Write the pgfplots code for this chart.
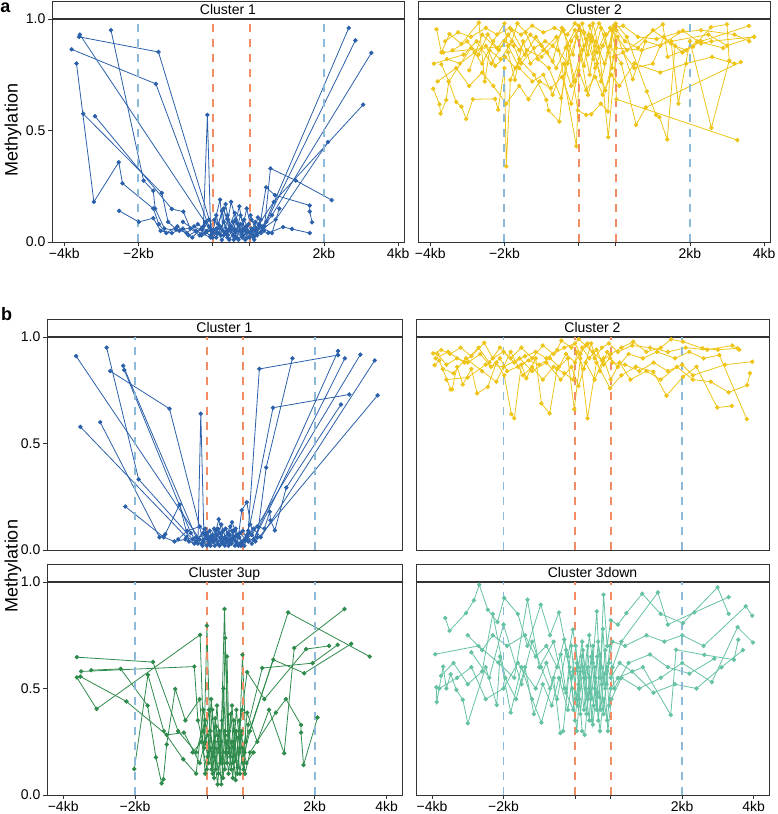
\documentclass[border=0pt]{standalone}
\usepackage{fontspec}
\setmainfont{Liberation Sans}
\usepackage{pgfplots}
\pgfplotsset{compat=1.18}
\definecolor{cA}{RGB}{43,96,170}
\definecolor{cB}{RGB}{238,196,24}
\definecolor{cC}{RGB}{46,139,76}
\definecolor{cD}{RGB}{102,194,165}
\definecolor{vO}{RGB}{242,140,100}
\definecolor{vB}{RGB}{140,185,215}
\pgfplotsset{
  every axis title shift=0pt,
  facet/.style={scale only axis, ymin=0, ymax=1,
    axis line style={black!80, line width=0.6pt},
    every tick/.style={black!80, line width=0.6pt},
    tick align=outside, major tick length=4pt,
    xtick pos=bottom, ytick pos=left,
    ytick={0,0.5,1}, yticklabels={0.0,0.5,1.0},
    xtick={-4,-2,0,1,3,5}, xticklabels={−4kb,−2kb,,,2kb,4kb},
    tick label style={font=\fontsize{14}{16}\selectfont},
    xticklabel style={inner sep=2pt},
    yticklabel style={inner sep=2.5pt},
    title style={at={(0.5,1)}, anchor=south, yshift=0pt, draw=black!80, line width=0.6pt, fill=white,
      inner sep=0pt, minimum height=17.5pt, text height=10pt, text depth=0pt,
      font=\fontsize{14}{16}\selectfont},
  },
  gA/.style={color=cA, line width=0.8pt, mark=*, mark size=1.8pt, mark options={solid}},
  gB/.style={color=cB, line width=0.8pt, mark=*, mark size=1.8pt, mark options={solid}},
  gC/.style={color=cC, line width=0.8pt, mark=*, mark size=1.8pt, mark options={solid}},
  gD/.style={color=cD, line width=0.8pt, mark=*, mark size=1.8pt, mark options={solid}},
  vlO/.style={vO, line width=1.9pt, dash pattern=on 8pt off 7pt},
  vlB/.style={vB, line width=1.9pt, dash pattern=on 8pt off 7pt},
}
\newcommand{\vlines}{%
  \addplot[vlB] coordinates {(-2,0) (-2,1)};
  \addplot[vlB] coordinates {(3,0) (3,1)};
  \addplot[vlO] coordinates {(0,0) (0,1)};
  \addplot[vlO] coordinates {(1,0) (1,1)};
}
\begin{document}
\begin{tikzpicture}
\useasboundingbox (0,0) rectangle (777pt,814pt);
% ---------------- panel a, Cluster 1
\begin{axis}[facet, at={(52pt,572pt)}, anchor=south west, width=352pt, height=223pt,
  xmin=-4.33, xmax=5.16, title={Cluster 1}, title style={minimum width=352pt}]
\addplot[gA] coordinates {(-3.58,0.93) (-0.05,0.05) (0.1,0.02) (0.3,0.09) (0.45,0.01) (0.6,0.05) (0.8,0.02) (1.05,0.06) (1.3,0.04) (3.67,0.96)};
\addplot[gA] coordinates {(-3.80,0.864) (-1.53,0.709) (-0.1,0.07) (0.15,0.04) (0.4,0.12) (0.55,0.03) (0.75,0.08) (0.95,0.02) (1.15,0.05) (1.45,0.09) (3.85,0.904)};
\addplot[gA] coordinates {(-3.60,0.92) (-1.46,0.852) (0.0,0.05) (0.2,0.19) (0.3,0.03) (0.5,0.07) (0.65,0.02) (0.85,0.1) (1.0,0.04) (1.2,0.03) (1.6,0.12) (4.28,0.848)};
\addplot[gA] coordinates {(-2.74,0.95) (-1.86,0.275) (-1.6,0.23) (-1.55,0.15) (-1.3,0.06) (-0.9,0.05) (-0.5,0.07) (-0.2,0.04) (0.1,0.06) (0.25,0.01) (0.4,0.05) (0.6,0.13) (0.8,0.03) (1.05,0.05) (1.25,0.08) (1.65,0.18) (4.06,0.616)};
\addplot[gA] coordinates {(-3.49,0.575) (-1.37,0.22) (-1.2,0.09) (-1.0,0.06) (-0.7,0.04) (-0.4,0.08) (-0.15,0.05) (0.05,0.1) (0.35,0.04) (0.5,0.18) (0.7,0.05) (0.9,0.07) (1.1,0.02) (1.35,0.06) (1.7,0.1) (3.11,0.448)};
\addplot[gA] coordinates {(-3.17,0.564) (-1.1,0.148) (-0.79,0.136) (-0.6,0.06) (-0.35,0.03) (-0.1,0.1) (0.15,0.08) (0.3,0.15) (0.45,0.06) (0.6,0.02) (0.75,0.12) (0.9,0.05) (1.05,0.1) (1.2,0.06) (1.5,0.04) (1.9,0.067) (2.14,0.058) (2.62,0.04)};
\addplot[gA] coordinates {(-3.67,0.80) (-3.20,0.18) (-2.53,0.358) (-2.43,0.263) (-1.6,0.15) (-1.45,0.08) (-1.25,0.04) (-0.95,0.07) (-0.65,0.03) (-0.3,0.06) (0.0,0.02) (0.2,0.07) (0.4,0.03) (0.55,0.09) (0.7,0.01) (0.85,0.06) (1.0,0.02) (1.15,0.09) (1.4,0.07) (1.56,0.33) (2.24,0.276) (3.21,0.188)};
\addplot[gA] coordinates {(-2.52,0.14) (-1.99,0.09) (-1.6,0.107) (-1.4,0.05) (-1.1,0.04) (-0.8,0.06) (-0.55,0.02) (-0.25,0.07) (-0.14,0.57) (-0.05,0.03) (0.1,0.04) (0.25,0.14) (0.4,0.02) (0.58,0.06) (0.72,0.16) (0.88,0.01) (1.02,0.12) (1.18,0.04) (1.3,0.1) (1.44,0.245) (1.68,0.21) (2.62,0.164) (2.62,0.137) (2.68,0.088)};
\addplot[gA] coordinates {(-0.3,0.03) (-0.2,0.09) (0.0,0.04) (0.1,0.12) (0.22,0.03) (0.35,0.17) (0.48,0.05) (0.62,0.1) (0.78,0.04) (0.92,0.15) (1.08,0.03) (1.22,0.11) (1.38,0.05)};
\addplot[gA] coordinates {(-0.8,0.09) (-0.45,0.05) (-0.05,0.02) (0.12,0.06) (0.28,0.05) (0.42,0.1) (0.57,0.01) (0.68,0.08) (0.82,0.05) (0.97,0.08) (1.12,0.01) (1.28,0.07) (1.6,0.04) (1.8,0.15)};
\vlines
\end{axis}
% ---------------- panel a, Cluster 2
\begin{axis}[facet, at={(418pt,572pt)}, anchor=south west, width=352pt, height=223pt,
  xmin=-4.33, xmax=5.16, ytick=\empty, title={Cluster 2}, title style={minimum width=352pt}]
\addplot[gB] coordinates {(-3.92,0.687) (-3.75,0.618) (-3.72,0.576) (-3.57,0.637) (-3.5,0.72) (-3.3,0.628) (-3.16,0.607) (-3.03,0.552) (-2.85,0.64) (-2.25,0.642) (-2.17,0.593) (-2.0,0.78) (-1.95,0.339) (-1.84,0.727) (-1.6,0.82) (-1.2,0.75) (-0.87,0.637) (-0.81,0.59) (-0.52,0.54) (-0.3,0.88) (-0.02,0.59) (0.2,0.57) (0.34,0.573) (0.6,0.62) (0.79,0.585) (0.9,0.95) (1.3,0.86) (2.27,0.976) (2.4,0.83) (3.09,0.876) (3.57,0.963) (4.0,0.976) (4.06,0.813)};
\addplot[gB] coordinates {(-3.83,0.954) (-3.7,0.85) (-3.48,0.933) (-3.16,0.888) (-2.69,0.984) (-2.53,0.72) (-2.4,0.86) (-2.1,0.82) (-1.8,0.9) (-1.65,0.98) (-1.43,0.94) (-1.1,0.82) (-0.8,0.78) (-0.47,0.645) (-0.2,0.9) (0.1,0.98) (0.25,0.84) (0.39,0.98) (0.55,0.87) (0.8,0.47) (1.05,0.92) (1.46,0.73) (1.8,0.9) (2.2,0.88) (2.81,0.948) (3.3,0.89) (3.58,0.9) (4.73,0.92)};
\addplot[gB] coordinates {(-3.7,0.797) (-3.5,0.72) (-2.9,0.87) (-2.6,0.8) (-2.3,0.9) (-2.0,0.98) (-1.9,0.85) (-1.72,0.727) (-1.5,0.9) (-1.3,0.8) (-0.95,0.86) (-0.6,0.92) (-0.06,0.43) (0.05,0.95) (0.3,0.75) (0.45,0.9) (0.7,0.8) (0.95,0.97) (1.02,0.64) (4.28,0.457)};
\addplot[gB] coordinates {(-3.55,0.82) (-3.2,0.8) (-2.8,0.85) (-2.5,0.88) (-2.25,0.79) (-1.98,0.83) (-1.7,0.78) (-1.4,0.86) (-1.0,0.83) (-0.7,0.88) (-0.4,0.95) (-0.1,0.72) (0.15,0.88) (0.35,0.92) (0.6,0.72) (0.85,0.88) (1.15,0.8) (1.55,0.525) (1.81,0.603) (4.37,0.807)};
\addplot[gB] coordinates {(-3.4,0.86) (-3.0,0.9) (-2.7,0.84) (-2.45,0.93) (-2.2,0.87) (-1.9,0.93) (-1.6,0.86) (-1.3,0.93) (-1.0,0.88) (-0.7,0.81) (-0.45,0.96) (-0.15,0.84) (0.0,0.97) (0.2,0.91) (0.4,0.82) (0.6,0.96) (0.8,0.85) (1.0,0.98) (1.3,0.92) (1.84,0.675) (2.09,0.57) (2.18,0.56) (2.39,0.46) (2.6,0.88) (2.9,0.86) (3.3,0.9) (4.59,0.969)};
\addplot[gB] coordinates {(-3.9,0.8) (-3.1,0.84) (-2.75,0.9) (-2.35,0.8) (-2.0,0.9) (-1.75,0.88) (-1.55,0.8) (-1.2,0.87) (-0.9,0.9) (-0.55,0.86) (-0.3,0.8) (-0.05,0.92) (0.15,0.79) (0.3,0.97) (0.5,0.85) (0.7,0.93) (0.9,0.78) (1.02,0.95) (1.25,0.9) (1.6,0.87) (2.0,0.95) (2.5,0.89) (2.69,0.62) (3.0,0.9) (3.58,0.512) (4.06,0.813)};
\addplot[gB] coordinates {(-2.95,0.77) (-2.6,0.93) (-2.15,0.86) (-1.8,0.95) (-1.45,0.84) (-1.15,0.92) (-0.85,0.85) (-0.6,0.78) (-0.35,0.87) (-0.1,0.95) (0.1,0.86) (0.28,0.93) (0.45,0.78) (0.65,0.88) (0.85,0.96) (1.0,0.87) (1.7,0.86) (2.5,0.9) (3.5,0.93) (4.0,0.88) (4.73,0.92)};
\addplot[gB] coordinates {(-3.65,0.85) (-1.9,0.88) (-1.6,0.78) (-1.25,0.72) (-0.95,0.75) (-0.7,0.66) (-0.4,0.8) (-0.2,0.7) (0.05,0.84) (0.25,0.66) (0.5,0.8) (0.72,0.68) (0.95,0.83) (1.2,0.85) (1.5,0.78) (2.0,0.8) (2.3,0.92) (2.8,0.85) (3.2,0.9) (3.9,0.87)};
\addplot[gB] coordinates {(-3.8,0.72) (-3.3,0.78) (-2.95,0.7) (-2.6,0.76) (-2.3,0.7) (-1.95,0.62) (-1.6,0.7) (-1.35,0.64) (-1.05,0.72) (-0.75,0.69) (-0.45,0.74) (-0.2,0.62) (0.0,0.77) (0.2,0.68) (0.45,0.74) (0.65,0.66) (0.88,0.75) (1.1,0.7) (1.5,0.8) (2.2,0.76) (2.9,0.8) (3.6,0.83) (4.2,0.8)};
\addplot[gB] coordinates {(-3.6,0.9) (-3.25,0.94) (-2.9,0.92) (-2.5,0.96) (-2.2,0.93) (-1.85,0.96) (-1.55,0.93) (-1.25,0.97) (-0.95,0.94) (-0.65,0.96) (-0.3,0.93) (-0.1,0.98) (0.15,0.94) (0.35,0.9) (0.55,0.98) (0.75,0.93) (0.95,0.96) (1.2,0.97) (1.6,0.92) (2.1,0.91) (2.7,0.94) (3.3,0.95) (4.2,0.93) (4.6,0.9)};
\vlines
\end{axis}
% ---------------- panel b, Cluster 1
\begin{axis}[facet, at={(47pt,264pt)}, anchor=south west, width=355pt, height=213pt,
  xmin=-4.45, xmax=5.43, xtick=\empty, title={Cluster 1}, title style={minimum width=355pt}]
\addplot[gA] coordinates {(-3.64,0.91) (-0.2,0.05) (0.0,0.02) (0.15,0.07) (0.3,0.03) (0.45,0.09) (0.6,0.02) (0.75,0.06) (0.9,0.03) (1.05,0.05) (1.25,0.07) (4.27,0.917)};
\addplot[gA] coordinates {(-3.52,0.578) (-0.57,0.06) (-0.3,0.04) (-0.1,0.08) (0.05,0.03) (0.2,0.1) (0.35,0.02) (0.5,0.06) (0.65,0.11) (0.8,0.04) (0.95,0.02) (1.1,0.06) (1.35,0.04) (4.75,0.726)};
\addplot[gA] coordinates {(-2.97,0.60) (-1.32,0.06) (-1.16,0.074) (-0.76,0.213) (-0.5,0.04) (-0.15,0.03) (0.02,0.06) (0.18,0.04) (0.33,0.144) (0.48,0.03) (0.62,0.07) (0.78,0.02) (0.92,0.08) (1.08,0.05) (1.3,0.1) (1.5,0.06) (4.67,0.89)};
\addplot[gA] coordinates {(-2.79,0.95) (-1.9,0.332) (-0.4,0.05) (-0.05,0.07) (0.1,0.02) (0.25,0.05) (0.4,0.12) (0.55,0.04) (0.7,0.09) (0.85,0.03) (0.97,0.187) (1.11,0.224) (1.3,0.05) (3.65,0.934)};
\addplot[gA] coordinates {(-2.69,0.84) (-1.04,0.663) (-0.1,0.04) (0.08,0.09) (0.22,0.02) (0.38,0.06) (0.52,0.1) (0.68,0.03) (0.82,0.07) (1.0,0.04) (1.15,0.09) (1.46,0.85) (3.65,0.915)};
\addplot[gA] coordinates {(-2.33,0.865) (-0.3,0.06) (-0.12,0.02) (0.05,0.05) (0.2,0.04) (0.36,0.08) (0.5,0.02) (0.66,0.05) (0.8,0.1) (0.96,0.03) (1.12,0.07) (1.25,0.03) (3.84,0.90)};
\addplot[gA] coordinates {(-2.3,0.845) (-0.45,0.08) (-0.25,0.03) (-0.17,0.64) (-0.08,0.05) (0.12,0.04) (0.28,0.07) (0.42,0.03) (0.58,0.08) (0.72,0.05) (0.88,0.02) (1.02,0.04) (1.2,0.12) (1.84,0.668) (3.96,0.73)};
\addplot[gA] coordinates {(-2.27,0.204) (-1.2,0.06) (-0.9,0.04) (-0.6,0.05) (-0.35,0.03) (-0.05,0.1) (0.1,0.06) (0.26,0.09) (0.4,0.04) (0.56,0.05) (0.7,0.13) (0.86,0.06) (1.0,0.09) (1.15,0.04) (1.4,0.06) (1.65,0.387) (2.38,0.90)};
\addplot[gA] coordinates {(-0.8,0.05) (-0.55,0.09) (-0.2,0.11) (0.0,0.08) (0.14,0.05) (0.3,0.1) (0.46,0.05) (0.6,0.04) (0.74,0.09) (0.9,0.06) (1.04,0.02) (1.18,0.08) (1.4,0.11) (1.6,0.1) (1.75,0.18) (1.77,0.14) (1.89,0.092) (2.21,0.293) (3.73,0.683)};
\vlines
\end{axis}
% ---------------- panel b, Cluster 2
\begin{axis}[facet, at={(416pt,264pt)}, anchor=south west, width=353pt, height=213pt,
  xmin=-4.45, xmax=5.43, xtick=\empty, ytick=\empty, title={Cluster 2}, title style={minimum width=353pt}]
\addplot[gB] coordinates {(-3.97,0.923) (-3.74,0.939) (-3.5,0.92) (-3.2,0.95) (-2.9,0.91) (-2.54,0.973) (-2.3,0.9) (-2.0,0.93) (-1.7,0.88) (-1.4,0.91) (-1.1,0.93) (-0.8,0.9) (-0.5,0.94) (-0.38,0.983) (-0.1,0.95) (0.1,0.99) (0.3,0.96) (0.5,0.93) (0.75,0.89) (1.0,0.92) (1.3,0.95) (1.63,0.978) (2.0,0.93) (2.4,0.95) (2.69,0.989) (3.02,0.978) (3.57,0.947) (4.0,0.94) (4.55,0.947)};
\addplot[gB] coordinates {(-3.93,0.868) (-3.8,0.89) (-3.48,0.754) (-3.44,0.754) (-3.3,0.86) (-3.14,0.777) (-2.9,0.85) (-2.74,0.735) (-2.44,0.766) (-2.2,0.88) (-1.98,0.82) (-1.78,0.638) (-1.7,0.618) (-1.5,0.87) (-1.36,0.806) (-1.1,0.9) (-0.94,0.688) (-0.71,0.641) (-0.5,0.85) (-0.2,0.9) (-0.02,0.661) (0.15,0.9) (0.35,0.618) (0.6,0.88) (0.98,0.759) (1.3,0.82) (1.7,0.86) (2.19,0.837) (2.56,0.724) (3.02,0.813) (3.4,0.86) (3.98,0.669) (4.39,0.676)};
\addplot[gB] coordinates {(-3.85,0.92) (-3.6,0.87) (-3.3,0.9) (-3.0,0.88) (-2.65,0.92) (-2.35,0.86) (-2.1,0.9) (-1.9,0.84) (-1.6,0.86) (-1.3,0.89) (-1.0,0.87) (-0.7,0.9) (-0.45,0.86) (-0.25,0.92) (0.0,0.88) (0.2,0.95) (0.4,0.9) (0.6,0.94) (0.8,0.87) (0.98,0.9) (1.2,0.86) (1.5,0.92) (1.9,0.9) (2.3,0.93) (2.8,0.9) (3.2,0.93) (3.6,0.9) (4.04,0.915) (4.81,0.614)};
\addplot[gB] coordinates {(-3.7,0.85) (-3.4,0.83) (-3.05,0.9) (-2.6,0.84) (-2.2,0.79) (-1.8,0.93) (-1.45,0.82) (-1.2,0.86) (-0.9,0.8) (-0.6,0.86) (-0.3,0.83) (-0.05,0.8) (0.05,0.93) (0.25,0.85) (0.45,0.97) (0.7,0.84) (0.9,0.93) (1.05,0.88) (1.4,0.87) (1.8,0.84) (2.2,0.88) (2.6,0.84) (3.0,0.87) (3.3,0.82) (4.2,0.87) (4.96,0.884)};
\addplot[gB] coordinates {(-3.6,0.8) (-3.0,0.81) (-2.5,0.87) (-2.0,0.86) (-1.55,0.9) (-1.2,0.84) (-0.8,0.88) (-0.4,0.8) (-0.1,0.86) (0.1,0.77) (0.3,0.88) (0.55,0.8) (0.8,0.9) (1.0,0.8) (1.25,0.88) (1.55,0.8) (2.0,0.84) (2.4,0.8) (2.85,0.86) (3.3,0.8) (3.8,0.79) (4.3,0.74) (4.82,0.774) (4.9,0.83)};
\addplot[gB] coordinates {(-3.9,0.9) (-3.55,0.93) (-3.1,0.88) (-2.7,0.95) (-2.4,0.88) (-2.1,0.95) (-1.8,0.9) (-1.5,0.95) (-1.2,0.9) (-0.9,0.96) (-0.6,0.92) (-0.3,0.95) (0.0,0.97) (0.15,0.92) (0.35,0.97) (0.55,0.9) (0.75,0.95) (0.95,0.97) (1.2,0.93) (1.6,0.96) (2.1,0.95) (2.6,0.93) (3.1,0.95) (3.7,0.94) (4.4,0.96) (4.6,0.94)};
\vlines
\end{axis}
% ---------------- panel b, Cluster 3up
\begin{axis}[facet, at={(47pt,19pt)}, anchor=south west, width=355pt, height=213pt,
  xmin=-4.45, xmax=5.43, title={Cluster 3up}, title style={minimum width=355pt}]
\addplot[gC] coordinates {(-3.62,0.647) (-1.5,0.624) (-0.8,0.3) (-0.3,0.2) (-0.05,0.35) (0.05,0.15) (0.15,0.4) (0.25,0.12) (0.35,0.3) (0.45,0.08) (0.55,0.25) (0.65,0.18) (0.75,0.35) (0.85,0.1) (0.95,0.28) (1.05,0.2) (1.2,0.3) (2.26,0.857) (4.53,0.65)};
\addplot[gC] coordinates {(-3.62,0.552) (-3.07,0.404) (-0.19,0.752) (-0.1,0.3) (0.02,0.18) (0.12,0.45) (0.22,0.25) (0.32,0.1) (0.42,0.35) (0.52,0.2) (0.62,0.3) (0.72,0.15) (0.82,0.4) (0.92,0.22) (1.02,0.12) (1.15,0.33) (1.54,0.596) (2.94,0.619) (3.64,0.705)};
\addplot[gC] coordinates {(-3.5,0.58) (-0.35,0.603) (-0.25,0.35) (-0.08,0.22) (0.0,0.795) (0.08,0.3) (0.18,0.2) (0.28,0.42) (0.38,0.15) (0.49,0.873) (0.58,0.28) (0.68,0.12) (0.78,0.3) (0.9,0.2) (0.99,0.658) (1.08,0.25) (1.85,0.635) (2.71,0.572) (4.02,0.71)};
\addplot[gC] coordinates {(-3.52,0.556) (-2.24,0.439) (-1.12,0.282) (-0.64,0.293) (-0.2,0.15) (-0.05,0.25) (0.06,0.4) (0.16,0.1) (0.26,0.32) (0.36,0.2) (0.46,0.5) (0.56,0.15) (0.66,0.38) (0.76,0.22) (0.86,0.13) (0.96,0.3) (1.06,0.1) (1.2,0.2) (1.92,0.387) (2.2,0.45) (2.62,0.329) (2.62,0.293) (2.69,0.141) (3.08,0.364)};
\addplot[gC] coordinates {(-3.22,0.586) (-2.4,0.592) (-1.65,0.42) (-1.42,0.177) (-1.26,0.055) (-1.21,0.074) (-1.12,0.237) (-0.88,0.498) (-0.6,0.35) (-0.2,0.45) (-0.05,0.1) (0.1,0.22) (0.2,0.08) (0.3,0.28) (0.4,0.05) (0.5,0.3) (0.6,0.1) (0.7,0.25) (0.8,0.07) (0.9,0.35) (1.0,0.15) (1.12,0.387) (1.4,0.25) (1.73,0.4) (2.15,0.196) (2.43,0.69) (3.83,0.873)};
\addplot[gC] coordinates {(-2.02,0.122) (-1.64,0.564) (-1.2,0.3) (-0.66,0.168) (-0.3,0.1) (-0.1,0.4) (0.03,0.28) (0.13,0.12) (0.23,0.36) (0.33,0.22) (0.43,0.15) (0.51,0.737) (0.6,0.2) (0.7,0.42) (0.8,0.16) (0.88,0.27) (0.98,0.4) (1.12,0.577) (1.6,0.45) (2.76,0.685) (3.4,0.7)};
\addplot[gC] coordinates {(-0.4,0.2) (-0.15,0.25) (0.0,0.12) (0.1,0.3) (0.2,0.18) (0.3,0.05) (0.4,0.25) (0.5,0.12) (0.56,0.65) (0.62,0.22) (0.72,0.08) (0.82,0.3) (0.92,0.1) (1.0,0.22) (1.1,0.15) (1.3,0.2)};
\vlines
\end{axis}
% ---------------- panel b, Cluster 3down
\begin{axis}[facet, at={(416pt,19pt)}, anchor=south west, width=353pt, height=213pt,
  xmin=-4.45, xmax=5.43, ytick=\empty, title={Cluster 3down}, title style={minimum width=353pt}]
\addplot[gD] coordinates {(-3.91,0.661) (-2.7,0.7) (-2.15,0.622) (-1.7,0.55) (-1.33,0.917) (-1.0,0.6) (-0.6,0.72) (-0.3,0.5) (-0.05,0.4) (0.05,0.62) (0.15,0.38) (0.25,0.55) (0.35,0.7) (0.45,0.45) (0.55,0.6) (0.65,0.35) (0.75,0.52) (0.85,0.68) (0.95,0.42) (1.05,0.6) (1.3,0.72) (2.32,0.951) (2.6,0.8) (3.34,0.857) (4.3,0.929)};
\addplot[gD] coordinates {(-3.88,0.506) (-3.87,0.437) (-3.69,0.603) (-3.6,0.5) (-3.48,0.567) (-3.32,0.494) (-3.14,0.447) (-3.0,0.337) (-2.5,0.6) (-2.19,0.423) (-2.1,0.65) (-1.8,0.387) (-1.5,0.6) (-1.2,0.45) (-0.94,0.34) (-0.6,0.55) (-0.41,0.29) (-0.33,0.3) (-0.15,0.6) (0.0,0.35) (0.1,0.52) (0.2,0.3) (0.27,0.282) (0.4,0.5) (0.5,0.33) (0.6,0.48) (0.7,0.3) (0.8,0.45) (0.9,0.35) (1.0,0.5) (1.2,0.55) (1.9,0.6) (2.68,0.376) (2.83,0.682) (3.62,0.658) (4.45,0.635) (4.57,0.729)};
\addplot[gD] coordinates {(-3.63,0.831) (-3.51,0.771) (-3.05,0.854) (-2.83,0.914) (-2.68,0.987) (-2.44,0.87) (-2.17,0.812) (-1.98,0.925) (-1.6,0.85) (-1.33,0.7) (-0.96,0.893) (-0.7,0.75) (-0.45,0.857) (-0.2,0.65) (-0.06,0.776) (0.1,0.6) (0.2,0.72) (0.3,0.55) (0.4,0.75) (0.5,0.62) (0.61,0.862) (0.7,0.55) (0.8,0.94) (0.9,0.7) (1.0,0.82) (1.2,0.8) (1.44,0.854) (1.88,0.945) (2.4,0.85) (3.02,0.807) (3.99,0.975) (4.3,0.85)};
\addplot[gD] coordinates {(-3.8,0.5) (-3.3,0.55) (-2.9,0.6) (-2.5,0.45) (-2.0,0.5) (-1.6,0.62) (-1.1,0.5) (-0.8,0.62) (-0.5,0.45) (-0.25,0.68) (-0.08,0.5) (0.05,0.3) (0.12,0.45) (0.22,0.6) (0.32,0.38) (0.42,0.55) (0.52,0.42) (0.62,0.65) (0.72,0.4) (0.82,0.57) (0.92,0.3) (1.02,0.45) (1.3,0.55) (1.8,0.5) (2.4,0.55) (3.0,0.62) (3.83,0.53) (4.55,0.788) (4.98,0.716)};
\addplot[gD] coordinates {(-3.0,0.75) (-2.6,0.68) (-2.3,0.75) (-1.9,0.7) (-1.4,0.75) (-1.1,0.65) (-0.8,0.7) (-0.5,0.6) (-0.3,0.73) (-0.1,0.55) (0.02,0.7) (0.12,0.5) (0.22,0.68) (0.35,0.45) (0.45,0.65) (0.55,0.5) (0.65,0.72) (0.75,0.6) (0.85,0.5) (0.95,0.62) (1.05,0.72) (1.4,0.7) (2.0,0.75) (2.5,0.72) (3.0,0.75) (3.6,0.7) (4.78,0.886) (4.96,0.842)};
\addplot[gD] coordinates {(-3.75,0.56) (-3.4,0.62) (-3.0,0.52) (-2.6,0.58) (-2.3,0.85) (-1.95,0.55) (-1.65,0.45) (-1.4,0.6) (-1.15,0.38) (-0.9,0.52) (-0.65,0.42) (-0.45,0.55) (-0.2,0.4) (-0.05,0.58) (0.08,0.42) (0.18,0.65) (0.3,0.5) (0.4,0.35) (0.5,0.7) (0.6,0.4) (0.7,0.66) (0.8,0.38) (0.9,0.6) (1.0,0.55) (1.25,0.62) (1.6,0.58) (2.2,0.48) (2.8,0.52) (3.4,0.5) (4.1,0.6) (4.7,0.68)};
\addplot[gD] coordinates {(-2.9,0.67) (-2.4,0.55) (-2.0,0.8) (-1.5,0.52) (-1.2,0.72) (-0.95,0.6) (-0.7,0.5) (-0.4,0.66) (-0.25,0.48) (-0.1,0.7) (0.03,0.45) (0.14,0.58) (0.25,0.4) (0.36,0.6) (0.47,0.35) (0.58,0.55) (0.68,0.46) (0.78,0.78) (0.88,0.52) (0.97,0.7) (1.1,0.5) (1.5,0.62) (2.1,0.66) (2.6,0.6) (3.2,0.57) (3.9,0.64)};
\vlines
\end{axis}
% ---------------- labels
\node[rotate=90, font=\fontsize{18}{20}\selectfont] at (13pt,684pt) {Methylation};
\node[rotate=90, font=\fontsize{18}{20}\selectfont] at (13pt,248pt) {Methylation};
\node[font=\bfseries\fontsize{18}{20}\selectfont] at (5.5pt,806pt) {a};
\node[font=\bfseries\fontsize{18}{20}\selectfont] at (6.5pt,500pt) {b};
\end{tikzpicture}
\end{document}
